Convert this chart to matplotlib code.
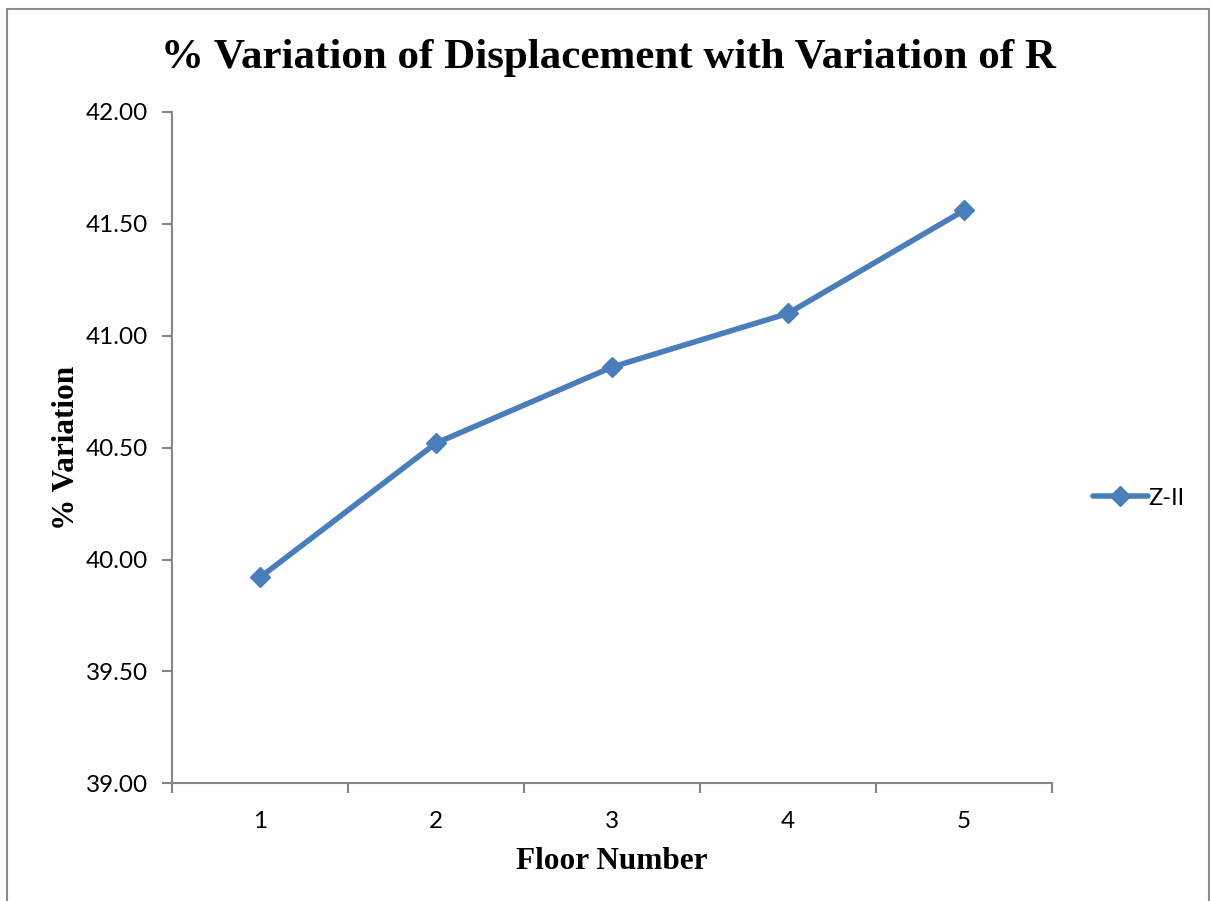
import matplotlib
matplotlib.use("Agg")
import matplotlib.pyplot as plt
from matplotlib.patches import Rectangle

floors = [1, 2, 3, 4, 5]
variation = [39.92, 40.52, 40.86, 41.10, 41.56]
series_name = "Z-II"
y_ticks = [39.0, 39.5, 40.0, 40.5, 41.0, 41.5, 42.0]

fig = plt.figure(figsize=(12.10, 9.01), dpi=100)
ax = fig.add_axes([0.1421, 0.1306, 0.7273, 0.7451])

color = "#4A7EBB"
ax.plot(floors, variation, color=color, lw=4.0, marker="D", markersize=10.5,
        markerfacecolor=color, markeredgecolor=color, label=series_name,
        solid_capstyle="round")

ax.set_xlim(0.5, 5.5)
ax.set_ylim(39.0, 42.0)
ax.set_yticks(y_ticks)
ax.set_yticklabels([f"{v:.2f}" for v in y_ticks])
ax.set_xticks(floors)
ax.set_xticklabels([str(f) for f in floors])
ax.set_xticks([f + 0.5 for f in [0] + floors], minor=True)
ax.tick_params(axis="x", which="major", length=0, pad=20)
ax.tick_params(axis="x", which="minor", length=7, width=1.5, color="#868686", direction="out")
ax.tick_params(axis="y", length=7, width=1.5, color="#868686", direction="out", pad=10)
for lab in ax.get_xticklabels() + ax.get_yticklabels():
    lab.set_fontfamily("Lato")
    lab.set_fontsize(17.5)

for s in ["top", "right"]:
    ax.spines[s].set_visible(False)
for s in ["left", "bottom"]:
    ax.spines[s].set_color("#868686")
    ax.spines[s].set_linewidth(1.5)

ax.set_xlabel("Floor Number", fontfamily="Liberation Serif", fontweight="bold", fontsize=22.5, labelpad=11)
ax.set_ylabel("% Variation", fontfamily="Liberation Serif", fontweight="bold", fontsize=22.5, labelpad=4)

fig.text(0.503, 0.936, "% Variation of Displacement with Variation of R",
         ha="center", va="center", fontfamily="Liberation Serif", fontweight="bold", fontsize=31)

leg = fig.legend(loc="center left", bbox_to_anchor=(0.886, 0.447), frameon=False,
                 prop={"family": "Lato", "size": 17}, handlelength=2.3, handletextpad=0.05)

fig.add_artist(Rectangle((7 / 1210, -0.05), 1202 / 1210, 1.05 - 9 / 901, transform=fig.transFigure,
                         fill=False, ec="#8c8c8c", lw=1.5))

fig.savefig("out.png", dpi=100, facecolor="white")
